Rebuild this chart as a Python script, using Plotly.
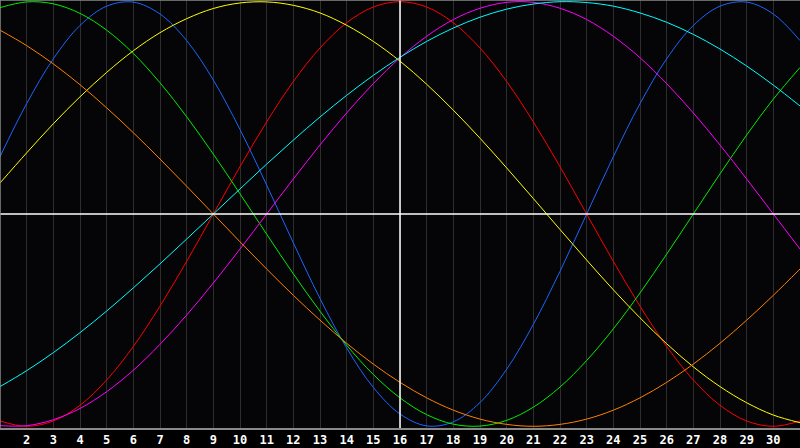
import plotly.graph_objects as go

days = list(range(1, 32))
tick_days = list(range(2, 31))
tick_labels = [str(d) for d in tick_days]
today = 16

# values, in percent (-100 .. 100), one per day 1..31
physical = [27.0, 52.0, 73.1, 88.8, 97.9, 99.8, 94.2, 81.7, 63.1, 39.8, 13.6,
            -13.6, -39.8, -63.1, -81.7, -94.2, -99.8, -97.9, -88.8, -73.1, -52.0,
            -27.0, 0.0, 27.0, 52.0, 73.1, 88.8, 97.9, 99.8, 94.2, 81.7]
emotional = [-97.5, -100.0, -97.5, -90.1, -78.2, -62.4, -43.4, -22.3, 0.0, 22.3, 43.4,
             62.4, 78.2, 90.1, 97.5, 100.0, 97.5, 90.1, 78.2, 62.4, 43.4,
             22.3, 0.0, -22.3, -43.4, -62.4, -78.2, -90.1, -97.5, -100.0, -97.5]
intellectual = [97.2, 99.9, 99.0, 94.5, 86.6, 75.6, 61.8, 45.8, 28.2, 9.5, -9.5,
                -28.2, -45.8, -61.8, -75.6, -86.6, -94.5, -99.0, -99.9, -97.2, -91.0,
                -81.5, -69.0, -54.1, -37.2, -18.9, 0.0, 18.9, 37.2, 54.1, 69.0]
intuitive = [-99.7, -99.7, -96.9, -91.6, -83.7, -73.6, -61.4, -47.6, -32.5, -16.5, 0.0,
             16.5, 32.5, 47.6, 61.4, 73.6, 83.7, 91.6, 96.9, 99.7, 99.7,
             96.9, 91.6, 83.7, 73.6, 61.4, 47.6, 32.5, 16.5, 0.0, -16.5]
aesthetic = [14.6, 28.8, 42.5, 55.2, 66.7, 76.9, 85.4, 92.0, 96.8, 99.4, 99.9,
             98.3, 94.7, 88.9, 81.3, 72.0, 61.1, 48.9, 35.7, 21.7, 7.3,
             -7.3, -21.7, -35.7, -48.9, -61.1, -72.0, -81.3, -88.9, -94.7, -98.3]
awareness = [86.6, 79.3, 70.7, 60.9, 50.0, 38.3, 25.9, 13.1, 0.0, -13.1, -25.9,
             -38.3, -50.0, -60.9, -70.7, -79.3, -86.6, -92.4, -96.6, -99.1, -100.0,
             -99.1, -96.6, -92.4, -86.6, -79.3, -70.7, -60.9, -50.0, -38.3, -25.9]
spiritual = [-81.3, -73.8, -65.3, -55.9, -45.7, -34.8, -23.5, -11.8, 0.0, 11.8, 23.5,
             34.8, 45.7, 55.9, 65.3, 73.8, 81.3, 87.6, 92.7, 96.5, 98.9,
             100.0, 99.6, 97.9, 94.7, 90.3, 84.6, 77.7, 69.7, 60.7, 50.9]

series = [
    ("Physical", physical, "#1a66ff"),
    ("Emotional", emotional, "#ff0000"),
    ("Intellectual", intellectual, "#00ee00"),
    ("Intuitive", intuitive, "#ff00ff"),
    ("Aesthetic", aesthetic, "#ffff00"),
    ("Awareness", awareness, "#ff8000"),
    ("Spiritual", spiritual, "#00ffff"),
]

fig = go.Figure()
for name, vals, col in series:
    fig.add_trace(go.Scatter(x=days, y=vals, mode="lines", name=name,
                             line=dict(color=col, width=1, shape="spline", smoothing=1),
                             hoverinfo="skip"))

fig.add_shape(type="line", xref="paper", yref="y", x0=0, x1=1, y0=0, y1=0,
              line=dict(color="#ffffff", width=1.5))
fig.add_shape(type="line", xref="x", yref="paper", x0=today, x1=today, y0=0, y1=1,
              line=dict(color="#ffffff", width=1.5))
fig.add_shape(type="line", xref="paper", yref="paper", x0=0, x1=1, y0=1, y1=1,
              line=dict(color="#8a8a8a", width=1.5))
fig.add_shape(type="line", xref="paper", yref="paper", x0=0, x1=0, y0=0, y1=1,
              line=dict(color="#8a8a8a", width=1.5))

fig.update_layout(
    width=800, height=448,
    margin=dict(l=0, r=0, t=0, b=20),
    paper_bgcolor="#000000",
    plot_bgcolor="#050508",
    showlegend=False,
    xaxis=dict(range=[1, 31], tickvals=tick_days, ticktext=tick_labels,
               showgrid=True, gridcolor="#2e2e2e", gridwidth=1, zeroline=False,
               showline=True, linecolor="#8a8a8a", linewidth=1.5,
               tickfont=dict(family="DejaVu Sans Mono", size=12, color="#ffffff", weight="bold"),
               ticks="", fixedrange=True),
    yaxis=dict(range=[-100.8, 100.8], showgrid=False, zeroline=False,
               showticklabels=False, showline=False, fixedrange=True),
)

fig.write_html("out.html", config={"displayModeBar": False},
               post_script="document.body.style.margin='0px';document.body.style.overflow='hidden';document.body.style.background='#000';")
